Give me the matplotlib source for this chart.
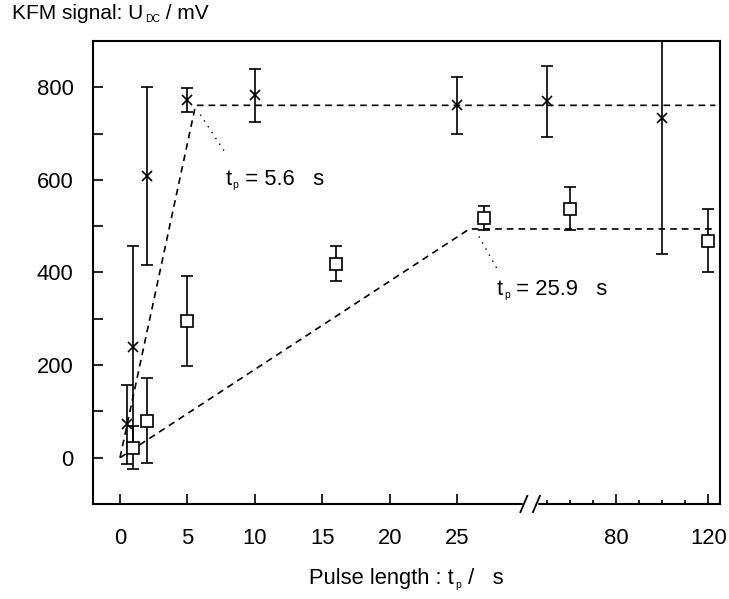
import numpy as np
import matplotlib
matplotlib.use("Agg")
import matplotlib.pyplot as plt

plt.rcParams['font.family'] = ['Liberation Sans', 'DejaVu Sans']

# --------- data (pulse length in s, KFM signal in mV) ---------
t_cross = [0.5, 1, 2, 5, 10, 25, 50, 100]
u_cross = [72, 240, 608, 772, 783, 761, 770, 733]
e_cross = [86, 218, 192, 26, 57, 61, 77, 292]

t_square = [1, 2, 5, 16, 27, 60, 120]
u_square = [22, 80, 296, 419, 517, 538, 469]
e_square = [46, 92, 97, 38, 26, 46, 69]

# saturation fits: (knee time, plateau level)
knee_cross = (5.6, 761)
knee_square = (25.9, 494)
fit_end = 123

xticks_major = [0, 5, 10, 15, 20, 25, 80, 120]
xticks_minor = [50, 60, 70, 90, 100, 110]

# --------- broken x-axis: linear up to T_LEFT, compressed after T_RIGHT ---------
T_LEFT, T_RIGHT, K = 30.4, 42.7, 0.171


def fwd(t):
    t = np.asarray(t, float)
    return np.where(t <= T_LEFT, t,
                    np.where(t >= T_RIGHT, T_LEFT + (t - T_RIGHT) * K, T_LEFT))


def inv(u):
    u = np.asarray(u, float)
    return np.where(u <= T_LEFT, u, T_RIGHT + (u - T_LEFT) / K)


def rich_text(ax, x, y, parts, size, transform, sub_scale=0.47):
    # parts: list of (string, is_subscript); first part is normal text
    first = ax.text(x, y, parts[0][0], fontsize=size, ha='left', va='baseline',
                    transform=transform)
    prev = first
    for s, sub in parts[1:]:
        prev = ax.annotate(s, xy=(1, 0), xycoords=(prev, first),
                           xytext=(1 if sub else 0.5, -0.5 if sub else 0),
                           textcoords='offset points',
                           fontsize=size * sub_scale if sub else size,
                           ha='left', va='bottom', annotation_clip=False)
    return first


fig = plt.figure(figsize=(7.29, 5.99), dpi=100)
ax = fig.add_axes([0.1276, 0.1586, 0.8601, 0.773])
ax.set_xscale('function', functions=(fwd, inv))
ax.set_xlim(-2, 125)
ax.set_ylim(-100, 900)

# error bars + markers
ax.errorbar(t_cross, u_cross, yerr=e_cross, fmt='none', ecolor='black',
            elinewidth=1.2, capsize=4.5, capthick=1.2, zorder=2)
ax.errorbar(t_square, u_square, yerr=e_square, fmt='none', ecolor='black',
            elinewidth=1.2, capsize=4.5, capthick=1.2, zorder=2)
ax.plot(t_cross, u_cross, 'x', color='black', ms=7.5, mew=1.2, zorder=4)
ax.plot(t_square, u_square, 's', color='black', mfc='white', ms=9, mew=1.2, zorder=4)

# fit lines
for tk, uk in (knee_cross, knee_square):
    ax.plot([0, tk, fit_end], [0, uk, uk], color='black', lw=1.2,
            dashes=(4, 3), zorder=3)

# annotations
ax.plot([5.95, 7.8], [741, 659], color='black', lw=1, ls=(0, (1, 4)))
rich_text(ax, 7.8, 590, [("t", False), ("p", True), (" = 5.6   s", False)],
          15.8, ax.transData)
ax.plot([26.6, 28.1], [478, 400], color='black', lw=1, ls=(0, (1, 4)))
rich_text(ax, 27.9, 352, [("t", False), ("p", True), (" = 25.9   s", False)],
          15.8, ax.transData)

# ticks
ax.set_xticks(xticks_major)
ax.set_xticklabels([str(v) for v in xticks_major])
ax.set_xticks(xticks_minor, minor=True)
ax.set_yticks([0, 200, 400, 600, 800])
ax.set_yticks([100, 300, 500, 700], minor=True)
ax.tick_params(axis='both', which='both', direction='in', width=1.2,
               labelsize=15.8, top=False, right=False)
ax.tick_params(axis='x', which='major', length=7, pad=17)
ax.tick_params(axis='x', which='minor', length=3)
ax.tick_params(axis='y', which='both', length=7, pad=14)
for s in ax.spines.values():
    s.set_linewidth(1.5)

# axis break marks "//"
xb = ax.transAxes.inverted().transform(ax.transData.transform((T_LEFT, 0)))[0]
w, h, gap = 0.0055, 0.0175, 0.0100
ax.plot([xb - gap, xb + gap], [0, 0], color='white', lw=2.5,
        transform=ax.transAxes, clip_on=False, zorder=5)
for dx in (-gap, gap):
    ax.plot([xb + dx - w, xb + dx + w], [-h, h], color='black', lw=1.3,
            transform=ax.transAxes, clip_on=False, zorder=6)

# axis labels
rich_text(ax, 309 / 729, 1 - 584 / 599,
          [("Pulse length : t", False), ("p", True), (" /   s", False)],
          15.8, fig.transFigure)
rich_text(ax, 12 / 729, 1 - 19 / 599,
          [("KFM signal: U", False), ("DC", True), (" / mV", False)],
          15, fig.transFigure, sub_scale=0.5)

plt.savefig("out.png", dpi=100)
